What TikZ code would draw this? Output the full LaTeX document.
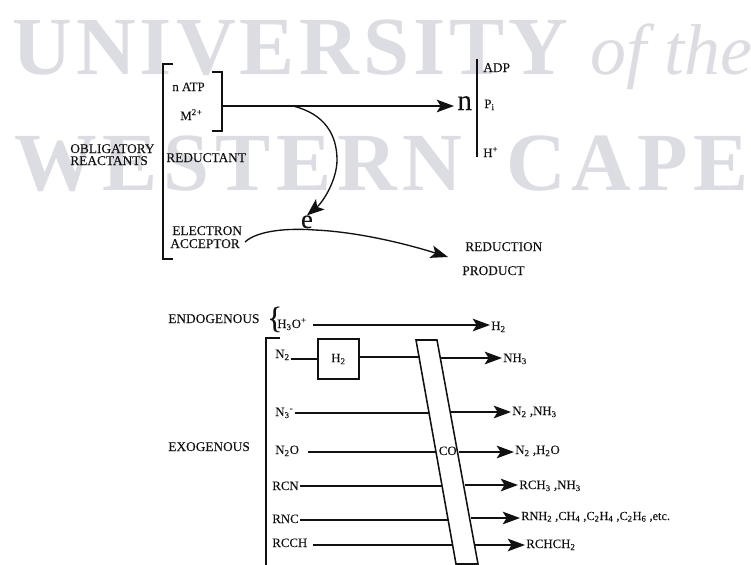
\documentclass[tikz,border=0pt]{standalone}
\usepackage{fontspec}
\setmainfont[FakeBold=0.12]{Liberation Serif}
\newfontfamily\wmfont[LetterSpace=5]{Liberation Serif Bold}
\newfontfamily\wmwide[LetterSpace=7]{Liberation Serif Bold}
\newfontfamily\wmital{Liberation Serif Italic}
\usetikzlibrary{arrows.meta}
\definecolor{wmgrey}{HTML}{DCDDE3}
\definecolor{inkc}{HTML}{111111}
\tikzset{
  wm/.style={text=wmgrey,anchor=base west,inner sep=0pt,font=\wmfont\fontsize{62}{62}\selectfont},
  lbl/.style={text=inkc,anchor=base west,inner sep=0pt,outer sep=1pt,font=\fontsize{9.6}{10}\selectfont},
  capc/.style={lbl,font=\fontsize{10}{10}\selectfont},
  line/.style={draw=inkc,line width=1.25pt},
  thin/.style={draw=inkc,line width=1pt},
  arr/.style={line,-{Stealth[length=13pt,width=9.5pt,inset=3pt]}},
  strip/.style={draw=inkc,line width=1.15pt,fill=white},
}
\begin{document}
\begin{tikzpicture}[x=.75pt,y=-.75pt]
\useasboundingbox (0,0) rectangle (751,565);
% watermark
\node[wm] (w1) at (12,74) {UNIVERSITY};
\node[wm,font=\wmital\fontsize{54}{54}\selectfont] (w2) at (590,74) {of the};
\node[wm,font=\wmwide\fontsize{62}{62}\selectfont] (w3) at (14,190) {WESTERN};
\node[wm,font=\wmwide\fontsize{62}{62}\selectfont] (w4) at (506,190) {CAPE};
% top scheme
\draw[line] (173,64) -- (163,64) -- (163,259) -- (173,259);
\draw[line] (212,72) -- (222,72) -- (222,131) -- (212,131);
\coordinate (brk) at (222,106);
\coordinate (split) at (293,106);
\node[lbl,font=\fontsize{22}{22}\selectfont] (nn) at (456,110) {n};
\draw[arr] (brk) -- ([xshift=-1.5pt]nn.west |- brk);
\draw[thin] (477,59) -- (477,157);
\node[capc] (adp) at (482,72) {ADP};
\node[lbl] (pi) at (483,108) {P\textsubscript{i}};
\node[lbl] (hp) at (482,157) {H\textsuperscript{+}};
\node[lbl] (atp) at (171,91) {n ATP};
\node[lbl] (m2) at (179,120) {M\textsuperscript{2}\textsuperscript{+}};
\node[capc] (obl) at (69,153) {OBLIGATORY};
\node[capc] (rea) at (69,165) {REACTANTS};
\node[capc] (red) at (165,162) {REDUCTANT};
\node[capc] (ele) at (171,235) {ELECTRON};
\node[capc] (acc) at (169,248) {ACCEPTOR};
\node[capc] (rdn) at (464,251) {REDUCTION};
\node[capc] (prd) at (461,275) {PRODUCT};
\node[lbl,font=\fontsize{20}{20}\selectfont,inner sep=0pt,outer sep=0pt] (el) at (301,228) {e};
\draw[arr,line width=1pt,-{Stealth[length=13pt,width=10pt,inset=3pt]}] (split) .. controls (325,114) and (337,135) .. (337,160) .. controls (337,180) and (323,202) .. (el.north);
\coordinate (acs) at (245,242);
\coordinate (ace) at (448,257);
\draw[arr,line width=1pt] (acs) .. controls (258,230) and (290,228) .. (315,230) .. controls (360,232) and (410,245) .. (ace);
% bottom scheme
\node[capc] (endo) at (167,323) {ENDOGENOUS};
\node[lbl,font=\fontsize{23}{23}\selectfont] (brc) at (266,328) {\{};
\node[lbl] (h3o) at (276,328) {H\textsubscript{3}O\textsuperscript{+}};
\node[lbl] (h2e) at (490,330) {H\textsubscript{2}};
\coordinate (endoa) at (313,325);
\draw[arr] (endoa) -- (h2e.west |- endoa);
\node[capc] (exo) at (167,451) {EXOGENOUS};
\draw[line] (280,338) -- (266,338) -- (266,565);
% strip
\coordinate (st1) at (416,340);
\coordinate (st2) at (437,340);
\coordinate (st3) at (478,564);
\coordinate (st4) at (456,564);
\draw[strip] (st1) -- (st2) -- (st3) -- (st4) -- cycle;
\node[lbl,inner sep=0pt] (co) at (437.5,455) {CO};
% H2 box
\node[draw=inkc,line width=1.15pt,minimum width=31pt,minimum height=30pt,inner sep=0pt,text=inkc,font=\fontsize{9.6}{10}\selectfont] (box) at (338.5,359) {H\textsubscript{2}};
% rows
\node[lbl] (r1) at (274,358) {N\textsubscript{2}};
\node[lbl] (r2) at (274,416) {N\textsubscript{3}\textsuperscript{-}};
\node[lbl] (r3) at (274,454) {N\textsubscript{2}O};
\node[lbl] (r4) at (271,490) {RCN};
\node[lbl] (r5) at (271,523) {RNC};
\node[lbl] (r6) at (271,547) {RCCH};
\node[lbl] (p1) at (502,362) {NH\textsubscript{3}};
\node[lbl] (p2) at (511,415) {N\textsubscript{2} ,NH\textsubscript{3}};
\node[lbl] (p3) at (514,454) {N\textsubscript{2} ,H\textsubscript{2}O};
\node[lbl] (p4) at (518,489) {RCH\textsubscript{3} ,NH\textsubscript{3}};
\node[lbl,font=\fontsize{9.2}{10}\selectfont] (p5) at (520,520) {RNH\textsubscript{2} ,CH\textsubscript{4} ,C\textsubscript{2}H\textsubscript{4} ,C\textsubscript{2}H\textsubscript{6} ,etc.};
\node[lbl] (p6) at (525,548) {RCHCH\textsubscript{2}};
\coordinate (a1l) at (419.5,357); \coordinate (a1r) at (440.5,358);
\coordinate (a2l) at (429,413); \coordinate (a2r) at (451,412);
\coordinate (a3l) at (436,452); \coordinate (a3r) at (459,452);
\coordinate (a4l) at (442,486); \coordinate (a4r) at (465,485);
\coordinate (a5l) at (448,520); \coordinate (a5r) at (471,518);
\coordinate (a6l) at (453,545); \coordinate (a6r) at (475,545);
\draw[thin] (r1.east |- box.west) -- (box.west);
\draw[thin] (box.east |- a1l) -- (a1l);
\draw[arr] (a1r) -- (p1.west |- a1r);
\draw[line] (r2.east |- a2l) -- (a2l);
\draw[arr] (a2r) -- (p2.west |- a2r);
\draw[line] ([xshift=6pt]r3.east |- a3l) -- (a3l);
\draw[arr] (a3r) -- (p3.west |- a3r);
\draw[thin] (r4.east |- a4l) -- (a4l);
\draw[arr] (a4r) -- (p4.west |- a4r);
\draw[thin] (r5.east |- a5l) -- (a5l);
\draw[arr] (a5r) -- (p5.west |- a5r);
\draw[thin] ([xshift=3pt]r6.east |- a6l) -- (a6l);
\draw[arr] (a6r) -- (p6.west |- a6r);
\end{tikzpicture}
\end{document}
